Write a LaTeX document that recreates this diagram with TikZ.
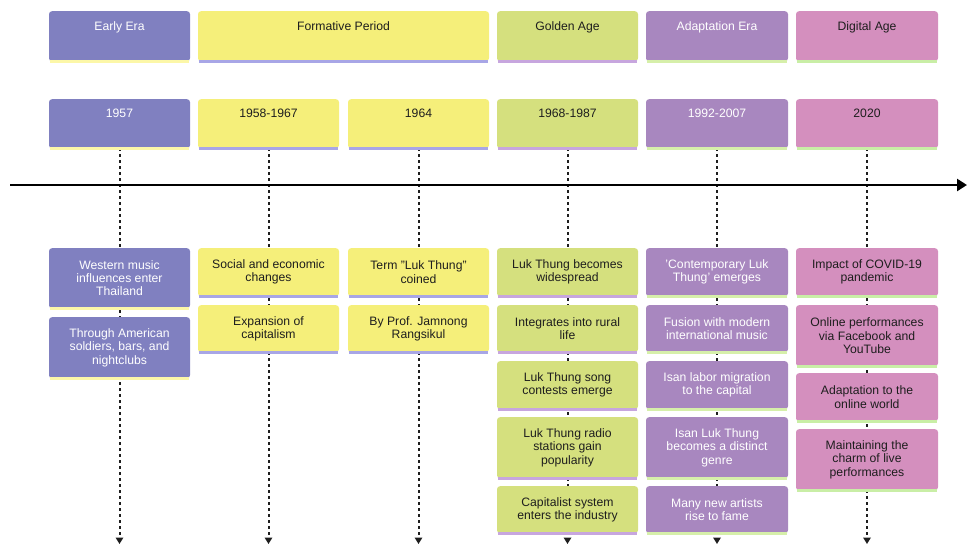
\documentclass[tikz,border=0pt]{standalone}
\usepackage{fontspec}
\setmainfont{Liberation Sans}
\usetikzlibrary{arrows.meta,backgrounds}
\definecolor{cEarly}{HTML}{8080C0}
\definecolor{cForm}{HTML}{F5EF7A}
\definecolor{cGold}{HTML}{D5E07E}
\definecolor{cAdapt}{HTML}{A887BF}
\definecolor{cDig}{HTML}{D48FBE}
\definecolor{sEarly}{HTML}{FCF7A8}
\definecolor{sForm}{HTML}{A8A6E6}
\definecolor{sGold}{HTML}{C7A6DE}
\definecolor{sAdapt}{HTML}{D6EFAA}
\definecolor{sDig}{HTML}{C9EEA6}
\definecolor{ink}{HTML}{1E1E1E}
\newcommand{\uptext}[1]{\raisebox{20pt}{#1}}
\tikzset{
  box/.style={rectangle, rounded corners=3pt, anchor=north, inner sep=0pt,
    minimum width=141pt, align=center, font=\fontsize{12.2}{13.2}\selectfont},
  strip/.style={append after command={(\tikzlastnode.south west) edge[draw=#1, line width=2.5pt, shorten <=0.8pt, shorten >=0.8pt] (\tikzlastnode.south east)}},
  early/.style={box, fill=cEarly, text=white, strip=sEarly},
  form/.style={box, fill=cForm, text=ink, strip=sForm},
  gold/.style={box, fill=cGold, text=ink, strip=sGold},
  adapt/.style={box, fill=cAdapt, text=white, strip=sAdapt},
  dig/.style={box, fill=cDig, text=ink, strip=sDig},
  head/.style={minimum height=50pt},
  per/.style={minimum height=49pt},
  dotline/.style={draw=ink, line width=2pt, dash pattern=on 3pt off 3pt,
    -{Triangle[length=6.5pt,width=7.5pt]}},
  axis/.style={draw=black, line width=2.8pt, -{Triangle[length=10pt,width=12pt]}}
}
\begin{document}
\begin{tikzpicture}[x=1pt,y=-1pt]
\useasboundingbox (0,0) rectangle (967,544);
% headers
\node[early, head] (h1) at (119.5,11) {\uptext{Early Era}};
\node[form, head, minimum width=291pt] (h2) at (343.5,11) {\uptext{Formative Period}};
\node[gold, head] (h3) at (567.5,11) {\uptext{Golden Age}};
\node[adapt, head, minimum width=142pt] (h4) at (717,11) {\uptext{Adaptation Era}};
\node[dig, head, minimum width=142pt] (h5) at (867,11) {\uptext{Digital Age}};
% periods
\node[early, per] (p1) at (119.5,99) {\uptext{1957}};
\node[form, per] (p2) at (268.5,99) {\uptext{1958-1967}};
\node[form, per] (p3) at (418.5,99) {\uptext{1964}};
\node[gold, per] (p4) at (567.5,99) {\uptext{1968-1987}};
\node[adapt, per, minimum width=142pt] (p5) at (717,99) {\uptext{1992-2007}};
\node[dig, per, minimum width=142pt] (p6) at (867,99) {\uptext{2020}};
% events col 1
\node[early, minimum height=60pt] (e11) at (119.5,248) {Western music\\influences enter\\Thailand};
\node[early, minimum height=61pt] (e12) at (119.5,317) {Through American\\soldiers, bars, and\\nightclubs};
% col 2
\node[form, minimum height=48pt] (e21) at (268.5,248) {Social and economic\\changes};
\node[form, minimum height=47pt] (e22) at (268.5,305) {Expansion of\\capitalism};
% col 3
\node[form, minimum height=48pt] (e31) at (418.5,248) {Term "Luk Thung"\\coined};
\node[form, minimum height=47pt] (e32) at (418.5,305) {By Prof. Jamnong\\Rangsikul};
% col 4
\node[gold, minimum height=48pt] (e41) at (567.5,248) {Luk Thung becomes\\widespread};
\node[gold, minimum height=47pt] (e42) at (567.5,305) {Integrates into rural\\life};
\node[gold, minimum height=48pt] (e43) at (567.5,361) {Luk Thung song\\contests emerge};
\node[gold, minimum height=61pt] (e44) at (567.5,417) {Luk Thung radio\\stations gain\\popularity};
\node[gold, minimum height=47pt] (e45) at (567.5,486) {Capitalist system\\enters the industry};
% col 5
\node[adapt, minimum width=142pt, minimum height=48pt] (e51) at (717,248) {'Contemporary Luk\\Thung' emerges};
\node[adapt, minimum width=142pt, minimum height=47pt] (e52) at (717,305) {Fusion with modern\\international music};
\node[adapt, minimum width=142pt, minimum height=48pt] (e53) at (717,361) {Isan labor migration\\to the capital};
\node[adapt, minimum width=142pt, minimum height=61pt] (e54) at (717,417) {Isan Luk Thung\\becomes a distinct\\genre};
\node[adapt, minimum width=142pt, minimum height=47pt] (e55) at (717,486) {Many new artists\\rise to fame};
% col 6
\node[dig, minimum width=142pt, minimum height=48pt] (e61) at (867,248) {Impact of COVID-19\\pandemic};
\node[dig, minimum width=142pt, minimum height=61pt] (e62) at (867,305) {Online performances\\via Facebook and\\YouTube};
\node[dig, minimum width=142pt, minimum height=48pt] (e63) at (867,373) {Adaptation to the\\online world};
\node[dig, minimum width=142pt, minimum height=61pt] (e64) at (867,429) {Maintaining the\\charm of live\\performances};
% connectors
\coordinate (bot) at (0,544);
\coordinate (tl0) at (10,185);
\coordinate (tl1) at (967,185);
\begin{scope}[on background layer]
\foreach \p in {p1,p2,p3,p4,p5,p6}
  \draw[dotline] (\p.south) -- (\p.south |- bot);
\draw[axis] (tl0) -- (tl1);
\end{scope}
\end{tikzpicture}
\end{document}
